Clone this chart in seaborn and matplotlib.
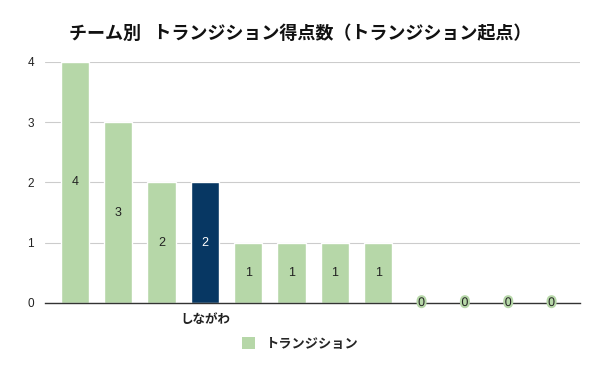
import matplotlib
matplotlib.use("Agg")
import matplotlib.pyplot as plt
import matplotlib.patheffects as pe
from matplotlib.patches import Patch
import seaborn as sns
import pandas as pd

teams = ["T1", "T2", "T3", "しながわ", "T5", "T6", "T7", "T8", "T9", "T10", "T11", "T12"]
tick_labels = ["", "", "", "しながわ", "", "", "", "", "", "", "", ""]
values = [4, 3, 2, 2, 1, 1, 1, 1, 0, 0, 0, 0]
highlight = "しながわ"
series_name = "トランジション"
title = "チーム別   トランジション得点数（トランジション起点）"

GREEN = "#b6d7a8"
DARK = "#073763"

sns.set_theme(style="white")
plt.rcParams["font.family"] = ["Noto Sans CJK JP", "DejaVu Sans"]

df = pd.DataFrame({"team": teams, "value": values})
palette = {t: (DARK if t == highlight else GREEN) for t in teams}

fig = plt.figure(figsize=(6, 3.71), dpi=100)
ax = fig.add_axes([0.075, 0.1833, 0.892, 0.6496])

sns.barplot(data=df, x="team", y="value", hue="team", palette=palette,
            legend=False, width=0.65, ax=ax, saturation=1)

ax.set_ylim(0, 4)
ax.set_xlim(-0.69, 11.66)
ax.set_yticks([0, 1, 2, 3, 4])
ax.set_yticklabels(["0", "1", "2", "3", "4"], fontsize=8.5, color="#222222", family=["Liberation Sans", "DejaVu Sans"])
ax.yaxis.grid(True, color="#cccccc", linewidth=0.8)
ax.set_axisbelow(True)
ax.tick_params(axis="y", length=0, pad=8)
ax.tick_params(axis="x", length=0, pad=7)
ax.set_xticks(range(len(teams)))
ax.set_xticklabels(tick_labels, fontsize=9, color="#222222", fontweight="bold")
ax.set_xlabel("")
ax.set_ylabel("")
for s in ["top", "right", "left"]:
    ax.spines[s].set_visible(False)
ax.spines["bottom"].set_color("#333333")
ax.spines["bottom"].set_linewidth(1)

for i, (t, v) in enumerate(zip(teams, values)):
    if v > 0:
        ax.text(i, v / 2, str(v), ha="center", va="center", fontsize=9,
                color=("white" if t == highlight else "#222222"),
                family=["Liberation Sans", "DejaVu Sans"])
    else:
        ax.text(i, 0, str(v), ha="center", va="center", fontsize=9, color="#222222",
                family=["Liberation Sans", "DejaVu Sans"],
                path_effects=[pe.withStroke(linewidth=3, foreground=GREEN)], zorder=5)

fig.suptitle(title, x=0.5, y=0.935, fontsize=13, fontweight="bold", color="#111111")

handles = [Patch(facecolor=GREEN, edgecolor="none", label=series_name)]
fig.legend(handles=handles, loc="center", bbox_to_anchor=(0.5, 0.073), frameon=False,
           handlelength=1.0, handleheight=1.0, prop={"weight": "bold", "size": 9.5})

fig.savefig("out.png", dpi=100)
